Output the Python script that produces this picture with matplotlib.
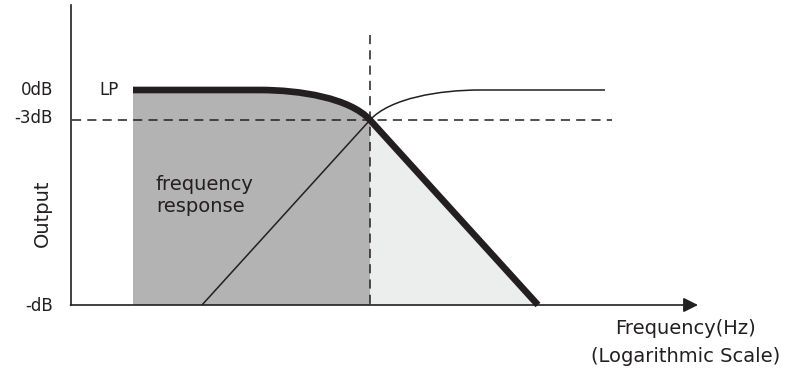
import matplotlib.pyplot as plt
from matplotlib.path import Path
from matplotlib.patches import PathPatch

# schematic coordinates (pixel-like, y grows downward)
lp_x = [133, 260, 300, 350, 370, 538]
lp_y = [90, 90, 90, 98, 120, 305]
hp_x = [202, 370, 390, 440, 480, 605]
hp_y = [305, 120, 98, 90, 90, 90]
cut_x = 370
cut_y = 120
base_y = 305
db_labels = ['0dB', '-3dB', '-dB']
db_pos = [90, 118, 306]

ink = '#231f20'

fig = plt.figure(figsize=(7.97, 3.68), dpi=100)
ax = fig.add_axes([0, 0, 1, 1])
ax.set_xlim(0, 797)
ax.set_ylim(368, 0)
ax.axis('off')

# grey area under LP curve (passband)
codes = [Path.MOVETO, Path.LINETO, Path.LINETO, Path.CURVE4, Path.CURVE4,
         Path.CURVE4, Path.LINETO, Path.CLOSEPOLY]
verts = [(lp_x[0], base_y), (lp_x[0], lp_y[0]), (lp_x[1], lp_y[1]),
         (lp_x[2], lp_y[2]), (lp_x[3], lp_y[3]), (lp_x[4], lp_y[4]),
         (lp_x[4], base_y), (lp_x[0], base_y)]
ax.add_patch(PathPatch(Path(verts, codes), fc='#b3b3b3', ec='none', zorder=1))

# light area (stopband slope)
ax.fill([lp_x[4], lp_x[5], lp_x[4]], [lp_y[4], lp_y[5], base_y],
        color='#eceeee', lw=0, zorder=1)

# LP curve (thick)
lp_codes = [Path.MOVETO, Path.LINETO, Path.CURVE4, Path.CURVE4, Path.CURVE4,
            Path.LINETO]
ax.add_patch(PathPatch(Path(list(zip(lp_x, lp_y)), lp_codes), fc='none',
                       ec=ink, lw=4.8, capstyle='butt', zorder=4))

# HP curve (thin)
hp_codes = [Path.MOVETO, Path.LINETO, Path.CURVE4, Path.CURVE4, Path.CURVE4,
            Path.LINETO]
ax.add_patch(PathPatch(Path(list(zip(hp_x, hp_y)), hp_codes), fc='none',
                       ec=ink, lw=1.1, zorder=3))

# dashed guides
ax.plot([72, 612], [cut_y, cut_y], color=ink, lw=1.1, dashes=(6, 4), zorder=2)
ax.plot([cut_x, cut_x], [35, base_y], color=ink, lw=1.1, dashes=(6, 4), zorder=2)

# axes
ax.plot([71, 71], [5, base_y], color=ink, lw=1.2, zorder=5)
ax.annotate('', xy=(698, base_y), xytext=(70.5, base_y),
            arrowprops=dict(arrowstyle='-|>', color=ink, lw=1.2,
                            mutation_scale=22, shrinkA=0, shrinkB=0), zorder=5)

# labels
for lab, y in zip(db_labels, db_pos):
    ax.text(53, y, lab, ha='right', va='center', fontsize=12, color=ink)
ax.text(99, 90, 'LP', ha='left', va='center', fontsize=12, color=ink)
ax.text(156, 185, 'frequency', ha='left', va='center', fontsize=14, color=ink)
ax.text(156, 207, 'response', ha='left', va='center', fontsize=14, color=ink)
ax.text(42, 213, 'Output', ha='center', va='center', rotation=90,
        fontsize=14, color=ink)
ax.text(686, 329, 'Frequency(Hz)', ha='center', va='center', fontsize=14,
        color=ink)
ax.text(686, 357, '(Logarithmic Scale)', ha='center', va='center',
        fontsize=14, color=ink)

plt.savefig('out.png', dpi=100)
